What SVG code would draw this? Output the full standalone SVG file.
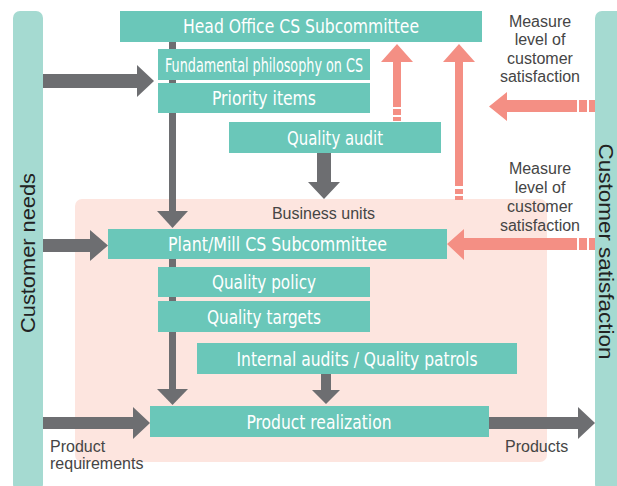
<svg xmlns="http://www.w3.org/2000/svg" width="617" height="486" viewBox="0 0 617 486">
<style>
.bar{fill:#a5dad1}
.box{fill:#6ac7b9}
.bt{font-family:"Liberation Sans Narrow","DejaVu Sans Condensed","Liberation Sans",sans-serif;font-size:19px;fill:#ffffff;text-anchor:middle}
.lt{font-family:"Liberation Sans",Arial,sans-serif;font-size:16px;fill:#454545}
.side{font-family:"Liberation Sans",Arial,sans-serif;font-size:21px;fill:#222222;text-anchor:middle}
.g{fill:#6d6e71}
.p{fill:#f48f84}
</style>
<rect x="75" y="199" width="472" height="263" rx="7" fill="#fde5df"/>
<g id="customer-needs">
<rect class="bar" x="13" y="11" width="30" height="480" rx="7"/>
<text class="side" transform="translate(35,253) rotate(-90)" textLength="160" lengthAdjust="spacingAndGlyphs">Customer needs</text>
</g>
<g id="customer-satisfaction">
<rect class="bar" x="595" y="11" width="40" height="480" rx="7"/>
<text class="side" transform="translate(599,251.5) rotate(90)" textLength="216" lengthAdjust="spacingAndGlyphs">Customer satisfaction</text>
</g>
<g id="connectors">
<rect class="g" x="169" y="42" width="7" height="170"/>
<polygon class="g" points="157,211 188,211 172.5,228"/>
<rect class="g" x="169" y="259" width="7" height="131"/>
<polygon class="g" points="157,389 188,389 172.5,405"/>
<polygon class="g" points="43,74 137,74 137,65 154,81 137,97 137,88 43,88"/>
<polygon class="g" points="43,239 90,239 90,230 108,245.5 90,261 90,252 43,252"/>
<polygon class="g" points="43,417 133,417 133,407 150,423 133,439 133,429 43,429"/>
<polygon class="g" points="489,417 578,417 578,407 595,423 578,439 578,429 489,429"/>
<polygon class="g" points="317,153 331,153 331,182 340,182 324,199 308,182 317,182"/>
<polygon class="g" points="321,374 331,374 331,390 340,390 326,404 312,390 321,390"/>
<polygon class="p" points="393,107 393,62 381,62 397,44 413,62 401,62 401,107"/>
<rect class="p" x="393" y="109" width="8" height="6"/>
<rect class="p" x="393" y="117" width="8" height="4"/>
<polygon class="p" points="455,186 455,62 443,62 459,44 475,62 463,62 463,186"/>
<rect class="p" x="455" y="189" width="8" height="5"/>
<rect class="p" x="455" y="196" width="8" height="4"/>
<polygon class="p" points="577,100 507,100 507,92 489,106.5 507,121 507,112 577,112"/>
<rect class="p" x="579" y="100" width="8" height="12"/>
<rect class="p" x="589" y="100" width="6" height="12"/>
<polygon class="p" points="577,238 464,238 464,229 447,244 464,260 464,250 577,250"/>
<rect class="p" x="579" y="238" width="8" height="12"/>
<rect class="p" x="589" y="238" width="6" height="12"/>
</g>
<g id="head-office">
<rect class="box" x="120" y="11" width="362" height="31"/>
<text class="bt" x="301" y="33" textLength="236" lengthAdjust="spacingAndGlyphs">Head Office CS Subcommittee</text>
</g>
<g id="fundamental">
<rect class="box" x="158" y="49" width="212" height="31"/>
<text class="bt" x="264" y="72" textLength="198" lengthAdjust="spacingAndGlyphs">Fundamental philosophy on CS</text>
</g>
<g id="priority">
<rect class="box" x="158" y="83" width="212" height="30"/>
<text class="bt" x="264" y="105" textLength="104" lengthAdjust="spacingAndGlyphs">Priority items</text>
</g>
<g id="quality-audit">
<rect class="box" x="229" y="122" width="212" height="31"/>
<text class="bt" x="335" y="144.5" textLength="96" lengthAdjust="spacingAndGlyphs">Quality audit</text>
</g>
<g id="plant-mill">
<rect class="box" x="108" y="229" width="339" height="30"/>
<text class="bt" x="277.5" y="251" textLength="219" lengthAdjust="spacingAndGlyphs">Plant/Mill CS Subcommittee</text>
</g>
<g id="quality-policy">
<rect class="box" x="158" y="267" width="212" height="30"/>
<text class="bt" x="264" y="289" textLength="104" lengthAdjust="spacingAndGlyphs">Quality policy</text>
</g>
<g id="quality-targets">
<rect class="box" x="158" y="301" width="212" height="31"/>
<text class="bt" x="264" y="323.5" textLength="114" lengthAdjust="spacingAndGlyphs">Quality targets</text>
</g>
<g id="internal-audits">
<rect class="box" x="197" y="343" width="320" height="31"/>
<text class="bt" x="357" y="365.5" textLength="241" lengthAdjust="spacingAndGlyphs">Internal audits / Quality patrols</text>
</g>
<g id="product-realization">
<rect class="box" x="150" y="406" width="339" height="31"/>
<text class="bt" x="319" y="428.5" textLength="145" lengthAdjust="spacingAndGlyphs">Product realization</text>
</g>
<g id="labels">
<text class="lt" x="323.5" y="219" text-anchor="middle">Business units</text>
<text class="lt" x="540" text-anchor="middle"><tspan x="540" y="27">Measure</tspan><tspan x="540" y="45">level of</tspan><tspan x="540" y="64">customer</tspan><tspan x="540" y="82">satisfaction</tspan></text>
<text class="lt" x="540" text-anchor="middle"><tspan x="540" y="174">Measure</tspan><tspan x="540" y="193">level of</tspan><tspan x="540" y="212">customer</tspan><tspan x="540" y="231">satisfaction</tspan></text>
<text class="lt" x="50"><tspan x="50" y="452">Product</tspan><tspan x="50" y="469">requirements</tspan></text>
<text class="lt" x="505" y="452">Products</text>
</g>
</svg>
